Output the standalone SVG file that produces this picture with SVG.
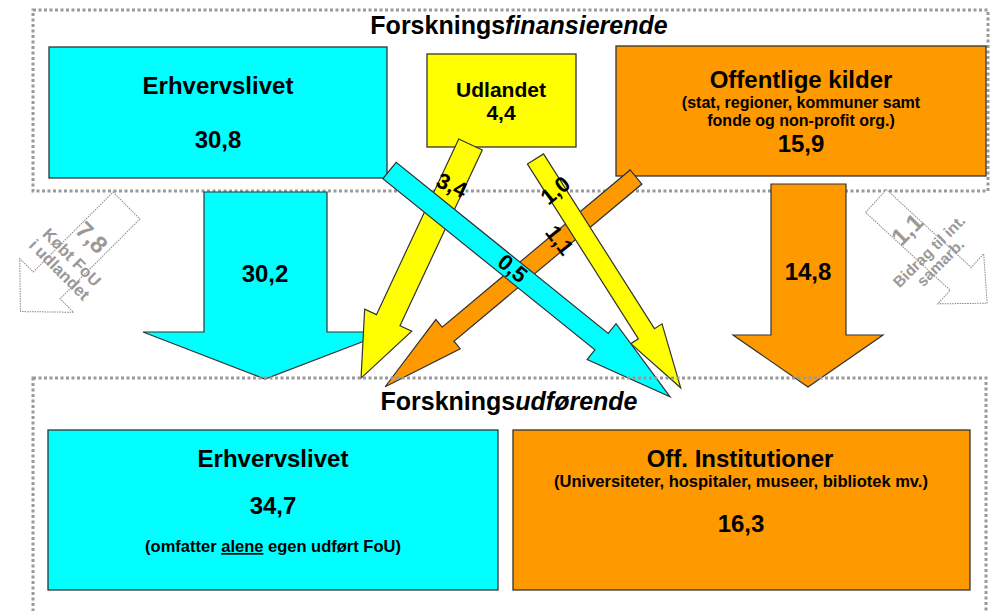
<svg xmlns="http://www.w3.org/2000/svg" width="998" height="611" viewBox="0 0 998 611">
<style>
text{font-family:"Liberation Sans",Arial,sans-serif;font-weight:bold;fill:#000}
.mid{text-anchor:middle}
.dash{fill:none;stroke:#999;stroke-width:3;stroke-dasharray:3 2.5}
.box{stroke:#333;stroke-width:1.3}
.cy{fill:#00FFFF}
.ye{fill:#FFFF00}
.or{fill:#FF9900}
.arr{stroke:#333;stroke-width:1.2;stroke-linejoin:miter}
.ghost{fill:#fff;stroke:#888;stroke-width:1;stroke-dasharray:1.5 1}
.gt{fill:#999;text-anchor:middle}
.t24{font-size:24px}
.t25{font-size:25px}
.t22{font-size:22px}
.t16{font-size:16.5px}
</style>
<rect class="dash" x="33" y="10" width="955" height="181"/>
<text class="mid t25" x="519" y="34">Forsknings<tspan font-style="italic">finansierende</tspan></text>
<g id="fin-erhverv">
<rect class="box cy" x="49" y="47" width="338" height="131"/>
<text class="mid t24" x="218" y="94">Erhvervslivet</text>
<text class="mid t24" x="218" y="148">30,8</text>
</g>
<g id="fin-udland">
<rect class="box ye" x="427" y="54" width="149" height="93"/>
<text class="mid" font-size="21" x="501" y="97">Udlandet</text>
<text class="mid" font-size="21" x="501" y="120">4,4</text>
</g>
<g id="fin-offentlig">
<rect class="box or" x="616" y="46" width="370" height="130"/>
<text class="mid t24" x="801" y="88">Offentlige kilder</text>
<text class="mid" font-size="16" x="801" y="108">(stat, regioner, kommuner samt</text>
<text class="mid" font-size="16" x="801" y="126">fonde og non-profit org.)</text>
<text class="mid t24" x="801" y="152">15,9</text>
</g>
<g id="connectors">
<g id="koebt-fou">
<polygon class="ghost" transform="translate(126.5,205.5) rotate(45)" points="-19,0 19,0 19,113 38,113 0,150 -38,113 -19,113"/>
<g transform="translate(126.5,205.5) rotate(45)">
<text class="gt t24" x="-2" y="55.5">7,8</text>
<text class="gt t16" x="-2" y="81">Købt FoU</text>
<text class="gt t16" x="-2" y="98.5">i udlandet</text>
</g>
</g>
<g id="bidrag-int">
<polygon class="ghost" transform="translate(876,201) rotate(-47.4)" points="-15.5,0 15.5,0 15.5,115 34,115 0,151 -34,115 -15.5,115"/>
<g transform="translate(876,201) rotate(-45)">
<text class="gt t24" x="2" y="50.5">1,1</text>
<text class="gt" font-size="15.5" x="2" y="78.5">Bidrag til int.</text>
<text class="gt" font-size="15.5" x="2" y="94.5">samarb.</text>
</g>
</g>
<g id="erhverv-erhverv">
<polygon class="arr cy" points="204,192 327,192 327,332 388,332 265,379 143,332 204,332"/>
<text class="mid t24" x="265" y="282">30,2</text>
</g>
<g id="offentlig-off">
<polygon class="arr or" points="771,184 846,184 846,335 883,335 808,387 733,335 771,335"/>
<text class="mid t24" x="808" y="280">14,8</text>
</g>
<polygon id="offentlig-erhverv" class="arr or" transform="translate(636,177) rotate(50.1)" points="-9.2,0 9.2,0 9.2,245 19,245 0,327 -19,245 -9.2,245"/>
<polygon id="udland-off" class="arr ye" transform="translate(535.5,159) rotate(-32.4)" points="-9.5,0 9.5,0 9.5,207 18.5,207 0,271 -18.5,207 -9.5,207"/>
<polygon id="udland-erhverv" class="arr ye" transform="translate(470.5,144.5) rotate(25.1)" points="-13,0 13,0 13,194 26,194 0,258 -26,194 -13,194"/>
<polygon id="erhverv-off" class="arr cy" transform="translate(389.5,170.5) rotate(-51.1)" points="-10.6,0 10.6,0 10.6,272.5 23,272.5 0,360.5 -23,272.5 -10.6,272.5"/>
<text class="mid t22" transform="translate(452,185) rotate(25)" y="8">3,4</text>
<text class="mid t22" transform="translate(555,190) rotate(-40)" y="8">1,0</text>
<text class="mid t22" transform="translate(560,240) rotate(52)" y="8">1,1</text>
<text class="mid t22" transform="translate(513,268) rotate(39)" y="8">0,5</text>
</g>
<rect class="dash" x="33" y="378" width="953" height="250"/>
<text class="mid t25" x="509" y="410">Forsknings<tspan font-style="italic">udførende</tspan></text>
<g id="udf-erhverv">
<rect class="box cy" x="48" y="430" width="450" height="160"/>
<text class="mid t24" x="273" y="467">Erhvervslivet</text>
<text class="mid t24" x="273" y="514">34,7</text>
<text class="mid t16" x="273" y="552">(omfatter <tspan text-decoration="underline">alene</tspan> egen udført FoU)</text>
</g>
<g id="udf-off">
<rect class="box or" x="513" y="430" width="457" height="160"/>
<text class="mid t24" x="740" y="467">Off. Institutioner</text>
<text class="mid t16" x="741" y="487">(Universiteter, hospitaler, museer, bibliotek mv.)</text>
<text class="mid t24" x="741" y="532">16,3</text>
</g>
</svg>
